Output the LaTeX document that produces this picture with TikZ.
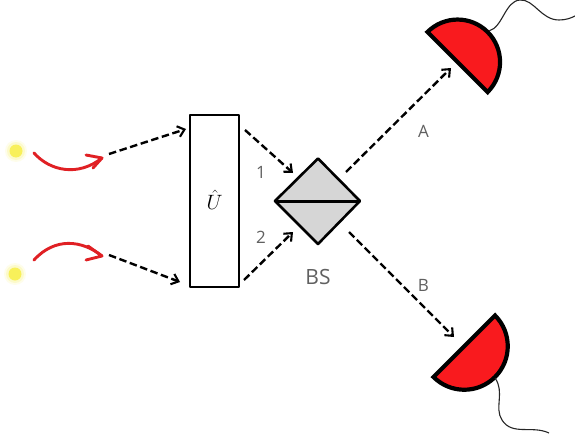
\documentclass[tikz,border=0pt]{standalone}
\usepackage{fontspec}
\setmainfont{Open Sans}
\usetikzlibrary{arrows.meta,calc}
\definecolor{detred}{HTML}{F91A1E}
\definecolor{curvered}{HTML}{E02024}
\definecolor{bsgray}{HTML}{D6D6D6}
\definecolor{labelgray}{HTML}{606060}
\definecolor{srcyellow}{HTML}{F8F05A}
\tikzset{
  x=1pt,y=-1pt,
  beam/.style={draw=black,line width=2.4pt,dash pattern=on 7.5pt off 3.6pt,-{Straight Barb[length=6.5pt,width=11pt,line width=2.1pt]}},
  redcurve/.style={draw=curvered,line width=2.9pt,line cap=round,line join=round},
  outline/.style={draw=black,line width=2.6pt,line join=round},
  detector/.style={draw=black,line width=4.2pt,fill=detred,line join=miter},
  wire/.style={draw=black!85,line width=1.1pt},
  lab/.style={text=labelgray,font=\fontsize{17}{20}\selectfont,inner sep=0pt},
  glow/.style={circle,fill=srcyellow,inner sep=0pt,minimum size=#1}
}
\begin{document}
\begin{tikzpicture}
\useasboundingbox[fill=white] (0,0) rectangle (575,444);
% sources
\foreach \nm/\px/\py in {srcA/16/151,srcB/15/274}{
  \fill[srcyellow,opacity=.12] (\px,\py) circle (11);
  \fill[srcyellow,opacity=.22] (\px,\py) circle (9);
  \node[glow=13pt] (\nm) at (\px,\py) {};
}
% red curved arrows
\coordinate (ca0) at (34,153); \coordinate (ca1) at (102,158);
\coordinate (cb0) at (34,260); \coordinate (cb1) at (102,256);
\draw[redcurve] (ca0) .. controls (50,171) and (78,177) .. (ca1);
\draw[redcurve] (86,155) -- (ca1) -- (93,168);
\draw[redcurve] (cb0) .. controls (55,237) and (82,240) .. (cb1);
\draw[redcurve] (88,246) -- (cb1) -- (86,260);
% unitary
\node[outline,fill=white,minimum width=49pt,minimum height=172pt,inner sep=0pt,text=black,font=\huge] (U) at (214.5,201) {\raisebox{2.5pt}{$\hat{U}$}};
% beam splitter
\coordinate (bsL) at (275,201); \coordinate (bsR) at (360,201);
\coordinate (bsT) at (318,158.5); \coordinate (bsB) at (318,244);
\draw[outline,fill=bsgray] (bsL) -- (bsT) -- (bsR) -- (bsB) -- cycle;
\draw[outline,line width=3pt] (bsL) -- (bsR);
% detectors
\coordinate (dA1) at (427.5,32); \coordinate (dA2) at (487,92.5);
\coordinate (dB1) at (433.5,377); \coordinate (dB2) at (495,315.5);
\draw[detector] (dA1) arc[start angle=225,end angle=405,radius=42.5] -- cycle;
\draw[detector] (dB1) arc[start angle=135,end angle=-45,radius=43.5] -- cycle;
% wires
\coordinate (wA) at (489,31); \coordinate (wB) at (495,378);
\draw[wire] (wA) .. controls (503,27) and (505,1) .. (520,0) .. controls (534,-1) and (541,20) .. (559,20) .. controls (566,20) and (571,18) .. (575,16);
\draw[wire] (wB) .. controls (505,392) and (494,408) .. (502,420) .. controls (512,436) and (532,425) .. (549,433);
% beams
\coordinate (a0) at (109,154); \coordinate (a1) at (186,129);
\coordinate (b0) at (109,255); \coordinate (b1) at (180,282);
\coordinate (c0) at (245,130); \coordinate (c1) at (293,173);
\coordinate (d0) at (244,280); \coordinate (d1) at (293,232);
\coordinate (e0) at (346,172); \coordinate (e1) at (451,68);
\coordinate (f0) at (349,232); \coordinate (f1) at (454,337);
\draw[beam] (a0) -- (a1);
\draw[beam] (b0) -- (b1);
\draw[beam] (c0) -- (c1);
\draw[beam] (d0) -- (d1);
\draw[beam] (e0) -- (e1);
\draw[beam] (f0) -- (f1);
% labels
\node[lab] (l1) at (261,172.5) {1};
\node[lab] (l2) at (261,237) {2};
\node[lab,font=\fontsize{21}{24}\selectfont] (lBS) at (318,276.5) {BS};
\node[lab] (lA) at (423.5,131) {A};
\node[lab] (lB) at (423.5,285) {B};
\end{tikzpicture}
\end{document}
